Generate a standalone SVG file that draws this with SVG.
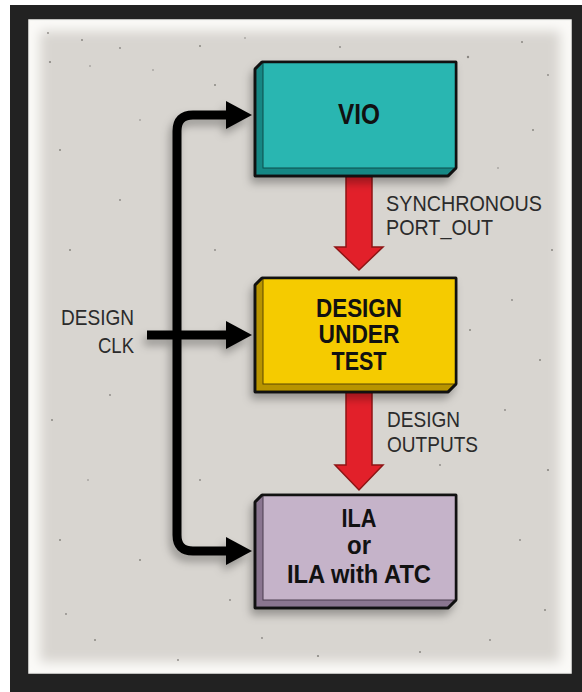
<svg xmlns="http://www.w3.org/2000/svg" width="582" height="692" viewBox="0 0 582 692">
<defs>
<style>
.lbl{font-family:"Liberation Sans",Arial,sans-serif;font-size:22px;fill:#2b2b2b}
.bt{font-family:"Liberation Sans",Arial,sans-serif;font-weight:bold;fill:#111;text-anchor:middle}
.edge{stroke:#111;stroke-width:2.5;stroke-linejoin:round}
.conn{fill:none;stroke:#000;stroke-width:9;stroke-linejoin:round}
.red{fill:#e2202a;stroke:#8e1515;stroke-width:1.5;stroke-linejoin:miter}
.dot{fill:#8a8782}
</style>
<filter id="sh" x="-20%" y="-20%" width="140%" height="150%">
<feDropShadow dx="-3" dy="6" stdDeviation="4" flood-color="#000" flood-opacity="0.3"/>
</filter>
<filter id="vb" x="-5%" y="-5%" width="110%" height="110%">
<feGaussianBlur stdDeviation="6"/>
</filter>
<clipPath id="pc"><rect x="29" y="20" width="542" height="653"/></clipPath>
</defs>
<rect x="0" y="0" width="582" height="692" fill="#ffffff"/>
<rect x="10" y="5" width="572" height="687" fill="#222222"/>
<rect x="29" y="20" width="542" height="653" fill="#d8d5d0"/>
<g clip-path="url(#pc)">
<rect x="29" y="20" width="542" height="653" fill="none" stroke="#fbfaf8" stroke-width="22" filter="url(#vb)"/>
</g>
<rect x="29" y="20" width="542" height="653" fill="none" stroke="#f4f3f1" stroke-width="1.5"/>
<g id="speckles">
<circle class="dot" cx="48" cy="33" r="0.9"/><circle class="dot" cx="82" cy="40" r="1"/><circle class="dot" cx="50" cy="62" r="1.1"/><circle class="dot" cx="90" cy="66" r="0.8"/><circle class="dot" cx="120" cy="48" r="0.9"/><circle class="dot" cx="153" cy="70" r="0.8"/><circle class="dot" cx="200" cy="46" r="1"/><circle class="dot" cx="245" cy="38" r="0.8"/><circle class="dot" cx="340" cy="47" r="0.9"/><circle class="dot" cx="468" cy="57" r="1.2"/><circle class="dot" cx="522" cy="42" r="1"/><circle class="dot" cx="548" cy="75" r="0.9"/><circle class="dot" cx="533" cy="130" r="1"/><circle class="dot" cx="498" cy="168" r="0.8"/><circle class="dot" cx="552" cy="250" r="1"/><circle class="dot" cx="512" cy="300" r="0.9"/><circle class="dot" cx="540" cy="360" r="1"/><circle class="dot" cx="505" cy="410" r="0.9"/><circle class="dot" cx="548" cy="470" r="1.1"/><circle class="dot" cx="520" cy="540" r="0.9"/><circle class="dot" cx="545" cy="610" r="1"/><circle class="dot" cx="490" cy="640" r="0.9"/><circle class="dot" cx="420" cy="652" r="1"/><circle class="dot" cx="318" cy="656" r="1.1"/><circle class="dot" cx="262" cy="638" r="0.9"/><circle class="dot" cx="178" cy="660" r="0.9"/><circle class="dot" cx="95" cy="640" r="1"/><circle class="dot" cx="66" cy="614" r="0.9"/><circle class="dot" cx="60" cy="540" r="1"/><circle class="dot" cx="88" cy="480" r="0.8"/><circle class="dot" cx="52" cy="420" r="1"/><circle class="dot" cx="110" cy="395" r="0.9"/><circle class="dot" cx="70" cy="250" r="1"/><circle class="dot" cx="120" cy="200" r="0.9"/><circle class="dot" cx="60" cy="150" r="1"/><circle class="dot" cx="140" cy="120" r="0.8"/><circle class="dot" cx="215" cy="85" r="1"/><circle class="dot" cx="200" cy="480" r="0.9"/><circle class="dot" cx="215" cy="250" r="0.9"/><circle class="dot" cx="410" cy="280" r="0.8"/><circle class="dot" cx="470" cy="330" r="1"/><circle class="dot" cx="440" cy="465" r="0.9"/><circle class="dot" cx="140" cy="560" r="1"/><circle class="dot" cx="230" cy="600" r="0.9"/>
</g>
<g id="connectors">
<g filter="url(#sh)">
<path class="conn" d="M228,115 H193 Q177,115 177,131 V535 Q177,551 193,551 H228"/>
<polygon points="226,101 252,115 226,129" fill="#000"/>
<polygon points="226,537 252,551 226,565" fill="#000"/>
<line x1="147" y1="335" x2="230" y2="335" stroke="#000" stroke-width="9"/>
<polygon points="226,321 252,335 226,349" fill="#000"/>
</g>
<polygon class="red" points="346,176 372,176 372,247 383,247 359,270 335,247 346,247"/>
<polygon class="red" points="346,392 372,392 372,465 383,465 359,490 335,465 346,465"/>
</g>
<g id="vio">
<g filter="url(#sh)">
<polygon class="edge" points="262,62 456,62 456,168 448,176 255,176 255,69" fill="#168784"/>
</g>
<rect x="263" y="62" width="193" height="106" fill="#29b6b1" stroke="#0d4d4b" stroke-width="1"/>
<polygon class="edge" points="262,62 456,62 456,168 448,176 255,176 255,69" fill="none"/>
<text class="bt" x="359" y="124" font-size="30" textLength="42" lengthAdjust="spacingAndGlyphs">VIO</text>
</g>
<g id="dut">
<g filter="url(#sh)">
<polygon class="edge" points="262,278 456,278 456,384 448,392 255,392 255,285" fill="#b89400"/>
</g>
<rect x="263" y="278" width="193" height="106" fill="#f5cb00" stroke="#5a4700" stroke-width="1"/>
<polygon class="edge" points="262,278 456,278 456,384 448,392 255,392 255,285" fill="none"/>
<text class="bt" x="359" y="317" font-size="25" textLength="86" lengthAdjust="spacingAndGlyphs">DESIGN</text>
<text class="bt" x="359" y="343" font-size="25" textLength="81" lengthAdjust="spacingAndGlyphs">UNDER</text>
<text class="bt" x="359" y="370" font-size="25" textLength="55" lengthAdjust="spacingAndGlyphs">TEST</text>
</g>
<g id="ila">
<g filter="url(#sh)">
<polygon class="edge" points="262,495 456,495 456,600 448,608 255,608 255,502" fill="#8a7690"/>
</g>
<rect x="263" y="495" width="193" height="105" fill="#c5b3c9" stroke="#4a3d4e" stroke-width="1"/>
<polygon class="edge" points="262,495 456,495 456,600 448,608 255,608 255,502" fill="none"/>
<text class="bt" x="359" y="527" font-size="25" textLength="35" lengthAdjust="spacingAndGlyphs">ILA</text>
<text class="bt" x="359" y="554" font-size="25" textLength="24" lengthAdjust="spacingAndGlyphs">or</text>
<text class="bt" x="359" y="583" font-size="25" textLength="144" lengthAdjust="spacingAndGlyphs">ILA with ATC</text>
</g>
<g id="labels">
<text class="lbl" x="386" y="211" textLength="156" lengthAdjust="spacingAndGlyphs">SYNCHRONOUS</text>
<text class="lbl" x="386" y="235" textLength="107" lengthAdjust="spacingAndGlyphs">PORT_OUT</text>
<text class="lbl" x="387" y="427" textLength="73" lengthAdjust="spacingAndGlyphs">DESIGN</text>
<text class="lbl" x="387" y="452" textLength="91" lengthAdjust="spacingAndGlyphs">OUTPUTS</text>
<text class="lbl" x="61" y="325" textLength="73" lengthAdjust="spacingAndGlyphs">DESIGN</text>
<text class="lbl" x="98" y="353" textLength="36" lengthAdjust="spacingAndGlyphs">CLK</text>
</g>
</svg>
